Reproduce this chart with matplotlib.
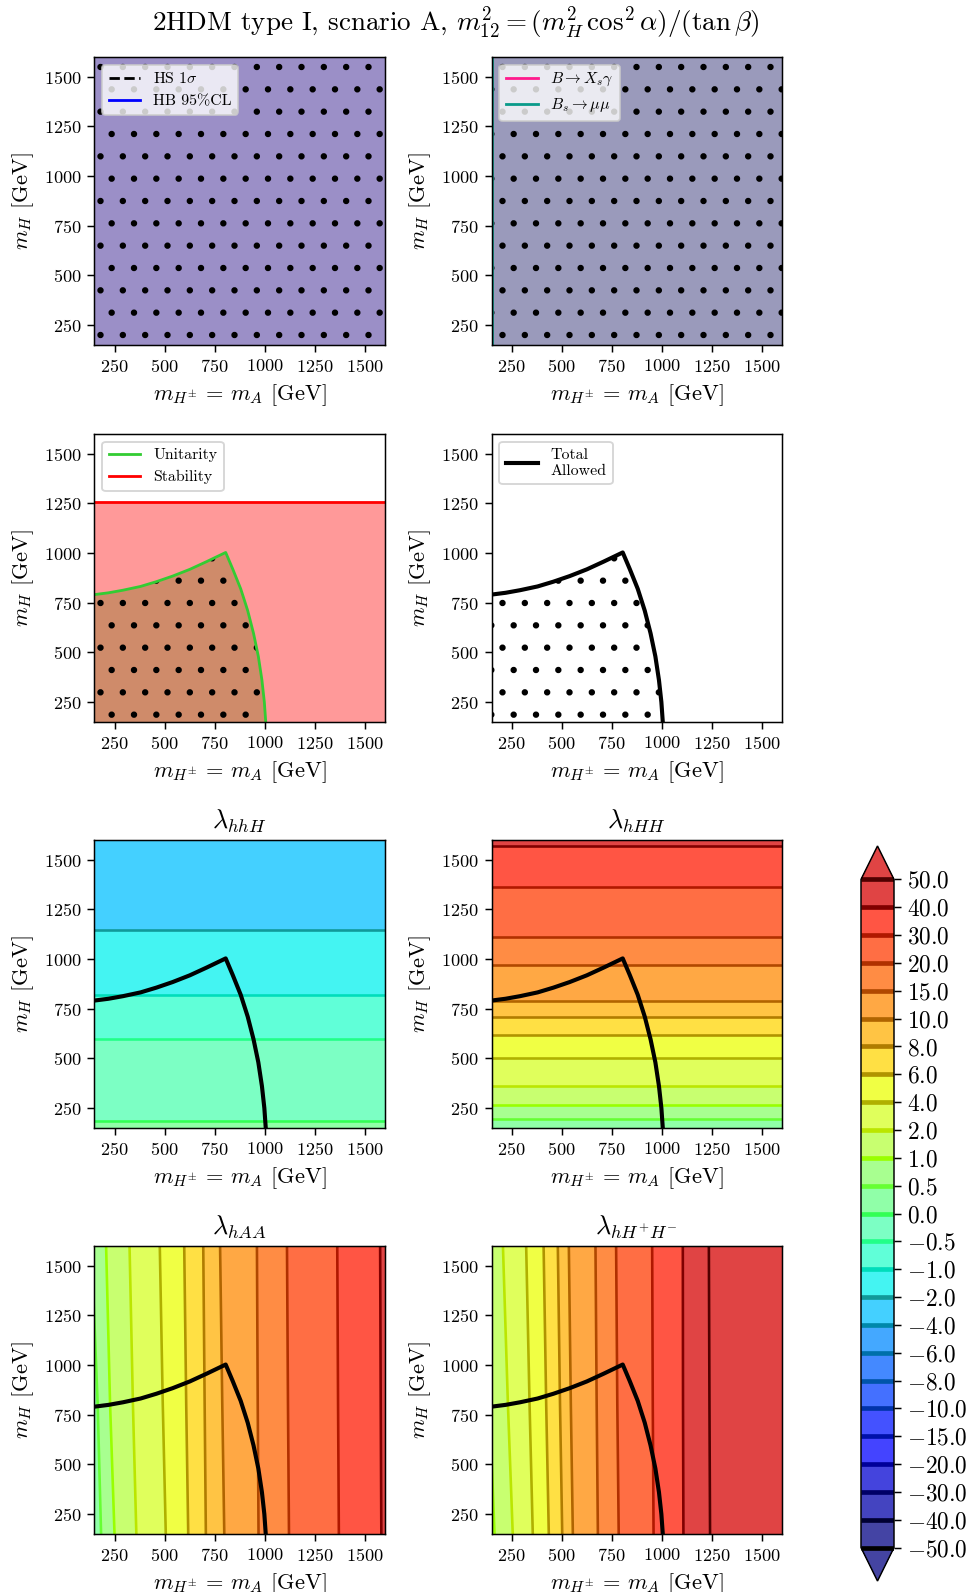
import numpy as np
import matplotlib
matplotlib.use("Agg")
import matplotlib.pyplot as plt
from matplotlib.lines import Line2D

plt.rcParams['font.family'] = 'serif'
plt.rcParams['font.serif'] = ['cmr10']
plt.rcParams['mathtext.fontset'] = 'cm'
plt.rcParams['axes.formatter.use_mathtext'] = True
plt.rcParams['axes.unicode_minus'] = False
plt.rcParams['hatch.linewidth'] = 1.0

DPI = 134.4
M_MIN, M_MAX = 150, 1600
TICKS = [250, 500, 750, 1000, 1250, 1500]

# Borde de la región permitida (unitariedad + estabilidad)
allowed_top_mA = [150, 220, 292, 380, 459, 540, 626, 710, 805]
allowed_top_mH = [791, 800, 813, 832, 856, 884, 918, 957, 1003]
allowed_side_mA = [805, 840, 880, 915, 944, 968, 986, 998, 1005]
allowed_side_mH = [1003, 920, 820, 710, 596, 480, 360, 250, 150]
stability_mH = 1255
bsmumu_mA = 153

# Niveles de las constantes de acoplamiento triple
levels = [-50, -40, -30, -20, -15, -10, -8, -6, -4, -2, -1, -0.5, 0,
          0.5, 1, 2, 4, 6, 8, 10, 15, 20, 30, 40, 50]
fill_colors = ['#4444a2', '#4444a4', '#4444c0', '#4444dd', '#4444ff', '#4452ff',
               '#4470ff', '#4489ff', '#44a8ff', '#44d0ff', '#44f4f2', '#60ffd8',
               '#7cffc4', '#90ffa8', '#a8ff90', '#c8ff70', '#e0ff5c', '#f0ff44',
               '#ffe044', '#ffc444', '#ffa844', '#ff8c44', '#ff6e44', '#ff5544',
               '#e04444', '#e04444']
line_colors = ['#000000', '#000033', '#000066', '#000099', '#0011aa', '#0033aa',
               '#0055aa', '#0070aa', '#0088aa', '#119999', '#00ddbb', '#22ff88',
               '#33ff55', '#66ff33', '#99ff00', '#bbe600', '#b0b000', '#b09400',
               '#b07c00', '#b06400', '#b04800', '#b03000', '#b01800', '#800000',
               '#500000']

# lambda_hhH y lambda_hHH solo dependen de m_H
hhH_mH = [150, 183, 596, 817, 1144, 1600]
hhH_val = [0.05, 0.0, -0.5, -1.0, -2.0, -3.3]
hHH_mH = [150, 197, 264, 361, 503, 616, 710, 788, 968, 1112, 1364, 1571, 1600]
hHH_val = [0.3, 0.5, 1, 2, 4, 6, 8, 10, 15, 20, 30, 40, 41]

# lambda_hAA y lambda_hH+H-: m_A donde se alcanza cada valor, para m_H = 150, 800, 1600
grid_mH = [150, 800, 1600]
hAA_val = [0.3, 0.5, 1, 2, 4, 6, 8, 10, 15, 20, 30, 40, 42]
hAA_mA_low = [100, 183, 250, 359, 506, 618, 706, 798, 969, 1121, 1370, 1582, 1650]
hAA_mA_mid = [100, 166, 228, 342, 491, 608, 700, 788, 965, 1116, 1366, 1579, 1650]
hAA_mA_high = [100, 135, 208, 325, 476, 598, 693, 777, 961, 1111, 1362, 1576, 1650]
hHpHm_val = [0.6, 1, 2, 4, 6, 8, 10, 15, 20, 30, 40, 50, 60]
hHpHm_mA_low = [100, 165, 256, 356, 436, 503, 556, 681, 785, 959, 1108, 1241, 1650]
hHpHm_mA_mid = [100, 140, 232, 340, 423, 492, 546, 675, 778, 955, 1106, 1238, 1650]
hHpHm_mA_high = [100, 125, 207, 323, 410, 481, 536, 669, 772, 952, 1105, 1235, 1650]

boundary_mA = allowed_top_mA + allowed_side_mA[1:]
boundary_mH = allowed_top_mH + allowed_side_mH[1:]
region_mA = [M_MIN] + boundary_mA
region_mH = [M_MIN] + boundary_mH

XLABEL = r'$m_{H^{\pm}}\,=\,m_A$ [GeV]'
YLABEL = r'$m_H$ [GeV]'


def mh_only_grid(mH, val):
    """Malla (m_A, m_H) para un acoplamiento que solo depende de m_H"""
    mH = np.asarray(mH, float)
    X = np.tile([M_MIN, M_MAX], (len(mH), 1)).astype(float)
    Y = np.repeat(mH[:, None], 2, axis=1)
    Z = np.repeat(np.asarray(val, float)[:, None], 2, axis=1)
    return X, Y, Z


def ma_grid(rows, val):
    """Malla curvilínea: cada columna sigue una curva de nivel"""
    X = np.array(rows, float)
    Y = np.repeat(np.asarray(grid_mH, float)[:, None], X.shape[1], axis=1)
    Z = np.tile(np.asarray(val, float), (X.shape[0], 1))
    return X, Y, Z


def setup_axes(ax):
    ax.set_xlim(M_MIN, M_MAX)
    ax.set_ylim(M_MIN, M_MAX)
    ax.set_xticks(TICKS)
    ax.set_yticks(TICKS)
    ax.tick_params(labelsize=9.8)
    ax.set_xlabel(XLABEL, fontsize=12)
    ax.set_ylabel(YLABEL, fontsize=12)


def draw_coupling(ax, X, Y, Z, title):
    cf = ax.contourf(X, Y, Z, levels=levels, colors=fill_colors, extend='both')
    ax.contour(X, Y, Z, levels=levels, colors=line_colors, linewidths=1.4)
    ax.plot(boundary_mA, boundary_mH, color='k', lw=2.2)
    ax.set_title(title, fontsize=14)
    return cf


fig = plt.figure(figsize=(976 / DPI, 1592 / DPI), dpi=DPI)
col_left = [0.0968, 0.5036]
row_bottom = [0.7833, 0.5465, 0.2915, 0.0364]
W, H = 0.2976, 0.1810
axes = [[fig.add_axes([cl, rb, W, H]) for cl in col_left] for rb in row_bottom]

fig.text(0.467, 0.986, r'2HDM type I, scnario A, $m_{12}^2 = (m_H^2\,\cos^2\alpha)/(\tan\beta)$',
         ha='center', va='center', fontsize=14.5)

# Fila 1: HiggsSignals / HiggsBounds y física del sabor
ax = axes[0][0]
ax.fill_between([M_MIN, M_MAX], M_MIN, M_MAX, facecolor='#9b8fc7', edgecolor='k',
                hatch='.', lw=0)
ax.plot([], [], color='k', ls='--', lw=1.5, label=r'HS $1\sigma$')
ax.plot([], [], color='b', lw=1.5, label='HB 95%CL')
ax.legend(loc='upper left', fontsize=8.5)
setup_axes(ax)

ax = axes[0][1]
ax.fill_between([M_MIN, M_MAX], M_MIN, M_MAX, facecolor='#9a9abb', edgecolor='k',
                hatch='.', lw=0)
ax.axvline(bsmumu_mA, color='#0a9a8a', lw=1.5)
ax.plot([], [], color='#ff1a8c', lw=1.5, label=r'$B\rightarrow X_s\gamma$')
ax.plot([], [], color='#0a9a8a', lw=1.5, label=r'$B_s\rightarrow\mu\mu$')
ax.legend(loc='upper left', fontsize=8.5)
setup_axes(ax)

# Fila 2: restricciones teóricas
ax = axes[1][0]
ax.fill_between([M_MIN, M_MAX], M_MIN, stability_mH, facecolor='#ff9999', lw=0)
ax.axhline(stability_mH, color='red', lw=1.5)
ax.fill(region_mA, region_mH, facecolor='#cf8b6a', edgecolor='k', hatch='.', lw=0)
ax.plot(boundary_mA, boundary_mH, color='#33cc33', lw=1.5)
ax.legend(handles=[Line2D([], [], color='#33cc33', lw=1.5, label='Unitarity'),
                   Line2D([], [], color='red', lw=1.5, label='Stability')],
          loc='upper left', fontsize=8.5)
setup_axes(ax)

ax = axes[1][1]
ax.fill(region_mA, region_mH, facecolor='none', edgecolor='k', hatch='.', lw=0)
ax.plot(boundary_mA, boundary_mH, color='k', lw=2.2)
ax.legend(handles=[Line2D([], [], color='k', lw=2.2, label='Total\nAllowed')],
          loc='upper left', fontsize=8.5)
setup_axes(ax)

# Filas 3 y 4: acoplamientos triples
cf = draw_coupling(axes[2][0], *mh_only_grid(hhH_mH, hhH_val), r'$\lambda_{hhH}$')
draw_coupling(axes[2][1], *mh_only_grid(hHH_mH, hHH_val), r'$\lambda_{hHH}$')
draw_coupling(axes[3][0], *ma_grid([hAA_mA_low, hAA_mA_mid, hAA_mA_high], hAA_val),
              r'$\lambda_{hAA}$')
draw_coupling(axes[3][1], *ma_grid([hHpHm_mA_low, hHpHm_mA_mid, hHpHm_mA_high], hHpHm_val),
              r'$\lambda_{hH^{+}H^{-}}$')
for ax in axes[2] + axes[3]:
    setup_axes(ax)

cax = fig.add_axes([861 / 976, 1 - 1581 / 1592, 33 / 976, 735 / 1592])
cb = fig.colorbar(cf, cax=cax)
cb.set_ticks(levels)
cb.set_ticklabels([f'${v:.1f}$' for v in levels])
cb.ax.tick_params(labelsize=12.5)
cb.add_lines(levels, line_colors, [2.5] * len(levels))

fig.savefig('out.png', dpi=DPI)
